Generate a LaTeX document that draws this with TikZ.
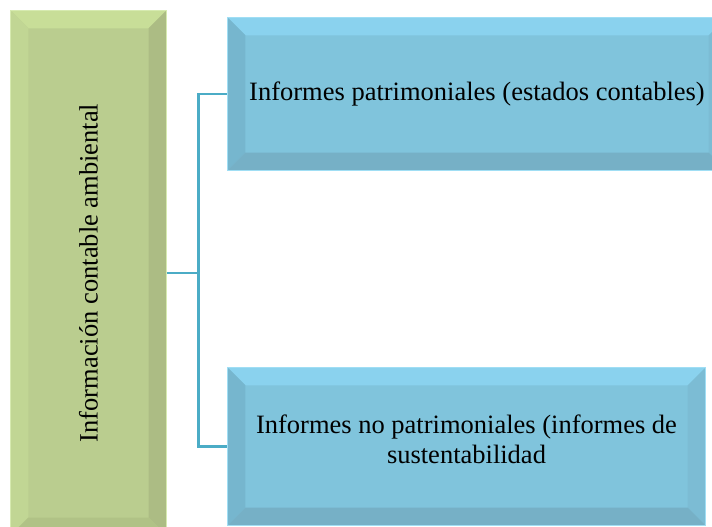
\documentclass[tikz,border=0pt]{standalone}
\usepackage{fontspec}
\setmainfont{Liberation Serif}
\usetikzlibrary{calc}
\definecolor{gmain}{RGB}{186,205,143}
\definecolor{gtop}{RGB}{200,222,152}
\definecolor{gleft}{RGB}{193,214,148}
\definecolor{gright}{RGB}{172,188,132}
\definecolor{gbot}{RGB}{176,194,134}
\definecolor{gedge}{RGB}{214,234,176}
\definecolor{bmain}{RGB}{128,196,220}
\definecolor{btop}{RGB}{138,210,238}
\definecolor{bleft}{RGB}{118,182,206}
\definecolor{bright}{RGB}{124,188,212}
\definecolor{bbot}{RGB}{118,176,198}
\definecolor{bedge}{RGB}{160,222,244}
\definecolor{linkc}{RGB}{75,172,198}
\newcommand\bevelbox[6]{%
  \fill[#3] (#1.north west) -- (#1.north east) -- ($(#1.north east)+(-#2,-#2)$) -- ($(#1.north west)+(#2,-#2)$) -- cycle;
  \fill[#4] (#1.north west) -- (#1.south west) -- ($(#1.south west)+(#2,#2)$) -- ($(#1.north west)+(#2,-#2)$) -- cycle;
  \fill[#5] (#1.north east) -- (#1.south east) -- ($(#1.south east)+(-#2,#2)$) -- ($(#1.north east)+(-#2,-#2)$) -- cycle;
  \fill[#6] (#1.south west) -- (#1.south east) -- ($(#1.south east)+(-#2,#2)$) -- ($(#1.south west)+(#2,#2)$) -- cycle;
}
\tikzset{
  x=1pt, y=1pt,
  greenbox/.style={fill=gmain, draw=gedge, line width=1.2pt, inner sep=0pt, minimum width=155pt, minimum height=524pt},
  bluebox/.style={fill=bmain, draw=bedge, line width=1.2pt, inner sep=0pt, align=center},
  boxtext/.style={font=\fontsize{26.5}{30}\selectfont},
  link/.style={draw=linkc, line width=2.6pt}
}
\begin{document}
\begin{tikzpicture}
\useasboundingbox (0,0) rectangle (712,527);
\clip (0,0) rectangle (712,527);
% left box
\node[greenbox] (left) at (88.5,254) {};
\bevelbox{left}{18}{gtop}{gleft}{gright}{gbot}
\draw[gedge, line width=1.2pt] (left.north west) rectangle (left.south east);
\node[boxtext, rotate=90] (lefttext) at (left.center) {Información contable ambiental};
% top box
\node[bluebox, minimum width=498pt, minimum height=152pt] (top) at (477,433) {};
\bevelbox{top}{18}{btop}{bleft}{bright}{bbot}
\draw[bedge, line width=1.2pt] (top.north west) rectangle (top.south east);
\node[boxtext] (toptext) at (top.center) {Informes patrimoniales (estados contables)};
% bottom box
\node[bluebox, minimum width=477pt, minimum height=157pt] (bot) at (466.5,80.5) {};
\bevelbox{bot}{18}{btop}{bleft}{bright}{bbot}
\draw[bedge, line width=1.2pt] (bot.north west) rectangle (bot.south east);
\node[boxtext, align=center] (bottext) at ($(bot.center)+(0,7)$) {Informes no patrimoniales (informes de\\sustentabilidad};
% connectors
\coordinate (j) at ($(left.east)+(32,0)$);
\draw[link] (left.east) -- (j);
\draw[link] (j) |- (top.west);
\draw[link] (j) |- (bot.west);
\end{tikzpicture}
\end{document}
